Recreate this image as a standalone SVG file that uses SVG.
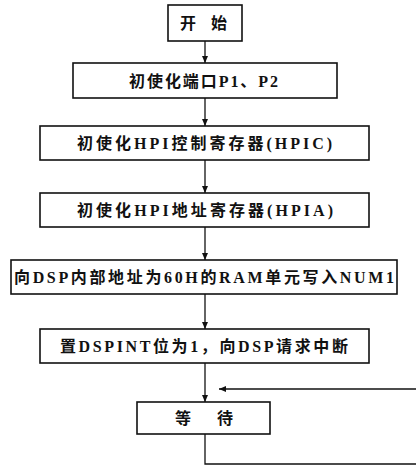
<svg xmlns="http://www.w3.org/2000/svg" width="416" height="467" viewBox="0 0 416 467">
<style>
.box{fill:#fff;stroke:#111;stroke-width:1.6}
.t{font-family:"Liberation Serif","Noto Sans CJK SC",serif;font-weight:bold;font-size:16px;fill:#111}
.c{fill:none;stroke:#111;stroke-width:1.3}
</style>
<defs>
<marker id="ah" markerWidth="8" markerHeight="8" refX="7" refY="4" orient="auto" markerUnits="userSpaceOnUse">
<path d="M0,1 L7,4 L0,7 Z" fill="#111"/>
</marker>
</defs>
<rect width="416" height="467" fill="#fff"/>
<g id="connectors">
<line class="c" x1="205" y1="41" x2="205" y2="63" marker-end="url(#ah)"/>
<line class="c" x1="205" y1="98" x2="205" y2="126" marker-end="url(#ah)"/>
<line class="c" x1="205" y1="160" x2="205" y2="193" marker-end="url(#ah)"/>
<line class="c" x1="205" y1="227" x2="205" y2="260" marker-end="url(#ah)"/>
<line class="c" x1="205" y1="294" x2="205" y2="329" marker-end="url(#ah)"/>
<line class="c" x1="205" y1="363" x2="205" y2="402" marker-end="url(#ah)"/>
<polyline class="c" points="205,434 205,464 416,464"/>
<line class="c" x1="416" y1="389" x2="219" y2="389" marker-end="url(#ah)"/>
</g>
<g id="n1">
<rect class="box" x="168" y="5" width="74" height="36"/>
<text class="t" x="180" y="29" font-size="17" textLength="47" lengthAdjust="spacing">开 始</text>
</g>
<g id="n2">
<rect class="box" x="73" y="63" width="264" height="35"/>
<text class="t" x="129" y="87" font-size="18" textLength="149" lengthAdjust="spacing">初使化端口P1、P2</text>
</g>
<g id="n3">
<rect class="box" x="40" y="126" width="329" height="34"/>
<text class="t" x="77" y="149" textLength="255" lengthAdjust="spacing">初使化HPI控制寄存器(HPIC)</text>
</g>
<g id="n4">
<rect class="box" x="40" y="193" width="329" height="34"/>
<text class="t" x="77" y="216" textLength="256" lengthAdjust="spacing">初使化HPI地址寄存器(HPIA)</text>
</g>
<g id="n5">
<rect class="box" x="11" y="260" width="386" height="34"/>
<text class="t" x="14" y="283" textLength="380" lengthAdjust="spacing">向DSP内部地址为60H的RAM单元写入NUM1</text>
</g>
<g id="n6">
<rect class="box" x="40" y="329" width="329" height="34"/>
<text class="t" x="60" y="352" textLength="288" lengthAdjust="spacing">置DSPINT位为1，向DSP请求中断</text>
</g>
<g id="n7">
<rect class="box" x="137" y="402" width="133" height="32"/>
<text class="t" x="175" y="424" font-size="17" textLength="58" lengthAdjust="spacing">等 待</text>
</g>
</svg>
